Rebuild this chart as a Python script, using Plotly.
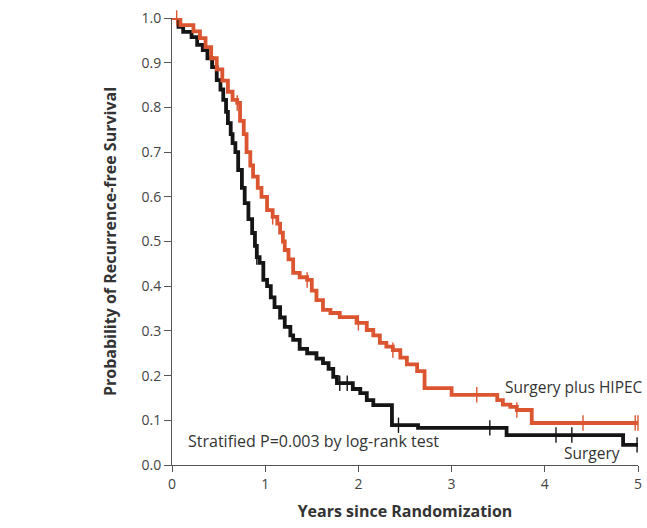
import numpy as np
import plotly.graph_objects as go

# Surgery plus HIPEC (Kaplan-Meier steps)
hipec_t = [0, 0.09, 0.23, 0.30, 0.36, 0.42, 0.48, 0.54, 0.60, 0.65, 0.70, 0.73, 0.77, 0.80, 0.84,
           0.87, 0.92, 0.96, 1.02, 1.08, 1.13, 1.16, 1.19, 1.21, 1.25, 1.30, 1.37, 1.45, 1.50, 1.55,
           1.62, 1.70, 1.80, 1.98, 2.09, 2.16, 2.23, 2.30, 2.37, 2.45, 2.52, 2.63, 2.71, 3.00, 3.49,
           3.55, 3.63, 3.70, 3.86, 5.00]
hipec_s = [1.0, 0.984, 0.97, 0.955, 0.935, 0.91, 0.885, 0.86, 0.835, 0.817, 0.81, 0.77, 0.74, 0.70, 0.67,
           0.645, 0.62, 0.60, 0.57, 0.555, 0.54, 0.52, 0.50, 0.481, 0.46, 0.43, 0.42, 0.414, 0.39, 0.369,
           0.347, 0.34, 0.331, 0.318, 0.302, 0.29, 0.273, 0.265, 0.257, 0.24, 0.225, 0.21, 0.172, 0.157, 0.145,
           0.135, 0.13, 0.123, 0.094, 0.094]
hipec_cens = [0.05, 0.70, 1.08, 1.45, 2.00, 2.37, 3.27, 3.70, 4.41, 4.97, 5.00]

# Surgery alone
surg_t = [0, 0.07, 0.12, 0.21, 0.27, 0.33, 0.38, 0.43, 0.48, 0.52, 0.55, 0.58, 0.60, 0.63, 0.65,
          0.68, 0.71, 0.75, 0.78, 0.82, 0.86, 0.89, 0.91, 0.94, 0.98, 1.02, 1.06, 1.10, 1.16, 1.21,
          1.27, 1.30, 1.37, 1.45, 1.55, 1.62, 1.68, 1.73, 1.77, 1.94, 2.02, 2.09, 2.16, 2.36, 2.64,
          3.59, 4.84, 5.00]
surg_s = [1.0, 0.98, 0.969, 0.957, 0.94, 0.928, 0.91, 0.89, 0.861, 0.84, 0.817, 0.79, 0.765, 0.74, 0.72,
          0.70, 0.66, 0.62, 0.586, 0.55, 0.519, 0.49, 0.465, 0.452, 0.414, 0.40, 0.375, 0.353, 0.33, 0.309,
          0.29, 0.28, 0.26, 0.25, 0.238, 0.228, 0.215, 0.197, 0.183, 0.17, 0.161, 0.145, 0.134, 0.089, 0.083,
          0.067, 0.045, 0.045]
surg_cens = [0.91, 1.80, 1.88, 2.43, 3.41, 4.12, 4.29, 4.99]

x_ticks = [0, 1, 2, 3, 4, 5]
y_ticks = [0.0, 0.1, 0.2, 0.3, 0.4, 0.5, 0.6, 0.7, 0.8, 0.9, 1.0]
y_tick_labels = ["0.0", "0.1", "0.2", "0.3", "0.4", "0.5", "0.6", "0.7", "0.8", "0.9", "1.0"]

RED = "#DA5530"
BLACK = "#151515"
FONT = "Open Sans"


def step_at(ts, ss, times):
    ts = np.asarray(ts)
    ss = np.asarray(ss)
    idx = np.searchsorted(ts, times, side="right") - 1
    return ss[np.clip(idx, 0, len(ss) - 1)]


fig = go.Figure()
for t, s, cens, col, name in [
    (surg_t, surg_s, surg_cens, BLACK, "Surgery"),
    (hipec_t, hipec_s, hipec_cens, RED, "Surgery plus HIPEC"),
]:
    fig.add_trace(go.Scatter(x=t, y=s, mode="lines", line=dict(color=col, width=3.8, shape="hv"),
                             name=name, showlegend=False, cliponaxis=False))
    fig.add_trace(go.Scatter(x=cens, y=step_at(t, s, cens), mode="markers",
                             marker=dict(symbol="line-ns", size=11, line=dict(color=col, width=1.4)),
                             showlegend=False, cliponaxis=False, hoverinfo="skip"))

fig.add_annotation(x=0.15, y=0.054, xref="x", yref="y", text="Stratified P=0.003 by log-rank test",
                   showarrow=False, xanchor="left", yanchor="middle",
                   font=dict(family=FONT, size=16, color="#333"))
fig.add_annotation(x=3.55, y=0.175, xref="x", yref="y", text="Surgery plus HIPEC",
                   showarrow=False, xanchor="left", yanchor="middle",
                   font=dict(family=FONT, size=15.5, color="#333"))
fig.add_annotation(x=4.83, y=0.027, xref="x", yref="y", text="Surgery",
                   showarrow=False, xanchor="right", yanchor="middle",
                   font=dict(family=FONT, size=15.5, color="#333"))

axis_common = dict(showline=True, linecolor="#555", linewidth=1, ticks="outside", tickcolor="#555",
                   tickwidth=1, showgrid=False, zeroline=False, automargin=False,
                   ticklabeloverflow="allow",
                   tickfont=dict(family=FONT, size=14, color="#444"))

fig.update_layout(
    width=647, height=528,
    margin=dict(l=172, r=9, t=18, b=63),
    paper_bgcolor="white", plot_bgcolor="white",
    xaxis=dict(range=[0, 5], tickvals=x_ticks, ticklen=6,
               title=dict(text="<b>Years since Randomization</b>", standoff=14,
                          font=dict(family=FONT, size=16, color="#333")),
               **axis_common),
    yaxis=dict(range=[0, 1.0], tickvals=y_ticks, ticktext=y_tick_labels, ticklen=7,
               title=dict(text="<b>Probability of Recurrence-free Survival</b>", standoff=20,
                          font=dict(family=FONT, size=16, color="#333")),
               **axis_common),
)

# remove the browser's default page margin so the 647x528 figure fills the window exactly
fig.write_html("out.html", config={"displayModeBar": False},
               post_script="document.body.style.margin='0';document.body.style.overflow='hidden';")
